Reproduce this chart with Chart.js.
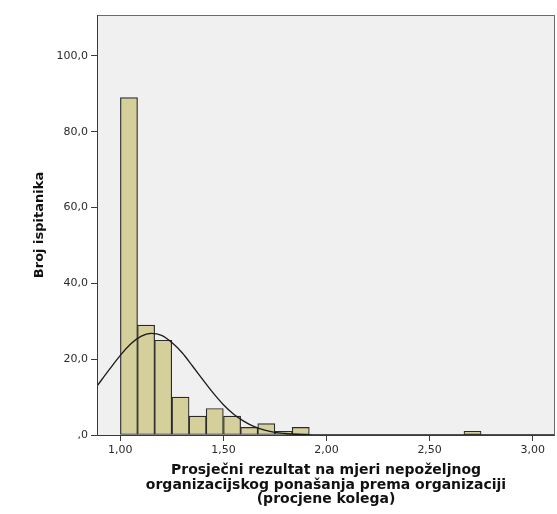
<!DOCTYPE html>
<html lang="hr">
<head>
  <meta charset="UTF-8">
  <title>Histogram - procjene kolega</title>
  <script src="https://cdn.jsdelivr.net/npm/chart.js"></script>
  <style>
    body { margin: 0; background: #fff; }
    #histChart { display: block; }
  </style>
</head>
<body>
  <canvas id="histChart" width="557" height="514"></canvas>

  <script>
// histogram bins (midpoints) and counts
const binMid = [1.042, 1.125, 1.208, 1.292, 1.375, 1.458, 1.542, 1.625, 1.708, 1.792, 1.875, 2.708];
const counts = [89, 29, 25, 10, 5, 7, 5, 2, 3, 1, 2, 1];

// normal curve
const curveX = [0.887, 0.95, 1.0, 1.05, 1.1, 1.15, 1.2, 1.25, 1.3, 1.35, 1.4, 1.45, 1.5, 1.55, 1.6, 1.65, 1.7, 1.75, 1.8, 1.85, 1.9, 2.0, 2.5, 3.108];
const curveY = [12.9, 17.5, 21.0, 24.0, 26.0, 26.8, 26.3, 24.4, 21.7, 18.2, 14.6, 11.1, 8.0, 5.5, 3.6, 2.2, 1.3, 0.7, 0.4, 0.2, 0.1, 0, 0, 0];

const xTicks = [1, 1.5, 2, 2.5, 3];
const yTicks = [0, 20, 40, 60, 80, 100];

const xTitle = ['Prosječni rezultat na mjeri nepoželjnog', 'organizacijskog ponašanja prema organizaciji', '(procjene kolega)'];
const yTitle = 'Broj ispitanika';

const FONT = "'DejaVu Sans', Verdana, sans-serif";

// grey plot background + frame like SPSS
const plotFrame = {
    id: 'plotFrame',
    beforeDraw(chart) {
        const { ctx, chartArea: a } = chart;
        ctx.save();
        ctx.fillStyle = '#f0f0f0';
        ctx.fillRect(a.left, a.top, a.right - a.left, a.bottom - a.top);
        ctx.restore();
    },
    afterDraw(chart) {
        const { ctx, chartArea: a } = chart;
        ctx.save();
        ctx.strokeStyle = '#6a6a6a';
        ctx.lineWidth = 1;
        ctx.strokeRect(a.left + 0.5, a.top + 0.5, a.right - a.left - 1, a.bottom - a.top);
        ctx.strokeStyle = '#3a3a3a';
        ctx.beginPath();
        ctx.moveTo(a.left + 0.5, a.top);
        ctx.lineTo(a.left + 0.5, a.bottom + 0.5);
        ctx.lineTo(a.right, a.bottom + 0.5);
        ctx.stroke();
        ctx.restore();
    }
};

const ctx = document.getElementById('histChart').getContext('2d');
new Chart(ctx, {
    type: 'bar',
    data: {
        datasets: [
            {
                type: 'line',
                data: curveX.map((x, i) => ({ x: x, y: curveY[i] })),
                borderColor: '#1a1a1a',
                borderWidth: 1.3,
                pointRadius: 0,
                cubicInterpolationMode: 'monotone',
                fill: false,
                order: 1
            },
            {
                type: 'bar',
                data: binMid.map((x, i) => ({ x: x, y: counts[i] })),
                backgroundColor: '#d4cf9b',
                borderColor: '#2a2a2a',
                borderWidth: 1.2,
                borderSkipped: false,
                barPercentage: 1,
                categoryPercentage: 1,
                order: 2
            }
        ]
    },
    options: {
        responsive: false,
        animation: false,
        layout: { padding: { left: 0, top: 15, right: 2, bottom: 0 } },
        plugins: {
            legend: { display: false },
            tooltip: { enabled: false }
        },
        scales: {
            x: {
                type: 'linear',
                min: 0.887,
                max: 3.108,
                offset: false,
                afterFit: s => { s.height = 79; },
                afterBuildTicks: s => { s.ticks = xTicks.map(v => ({ value: v })); },
                border: { display: false },
                grid: { offset: false, drawOnChartArea: false, drawTicks: true, tickLength: 6, color: '#3a3a3a' },
                ticks: {
                    padding: 3,
                    color: '#2a2a2a',
                    font: { family: FONT, size: 11 },
                    maxRotation: 0,
                    callback: v => v.toFixed(2).replace('.', ',')
                },
                title: {
                    display: true,
                    text: xTitle,
                    color: '#111',
                    font: { family: FONT, size: 14, weight: 'bold', lineHeight: 1.04 },
                    padding: { top: 0, bottom: 7 }
                }
            },
            y: {
                min: 0,
                max: 110.8,
                afterFit: s => { s.width = 97; },
                afterBuildTicks: s => { s.ticks = yTicks.map(v => ({ value: v })); },
                border: { display: false },
                grid: { drawOnChartArea: false, drawTicks: true, tickLength: 6, color: '#3a3a3a' },
                ticks: {
                    padding: 3,
                    color: '#2a2a2a',
                    font: { family: FONT, size: 11 },
                    callback: v => v === 0 ? ',0' : v.toFixed(1).replace('.', ',')
                },
                title: {
                    display: true,
                    text: yTitle,
                    color: '#111',
                    font: { family: FONT, size: 13, weight: 'bold' },
                    padding: { top: 32, bottom: 0 }
                }
            }
        }
    },
    plugins: [plotFrame]
});
  </script>
</body>
</html>
